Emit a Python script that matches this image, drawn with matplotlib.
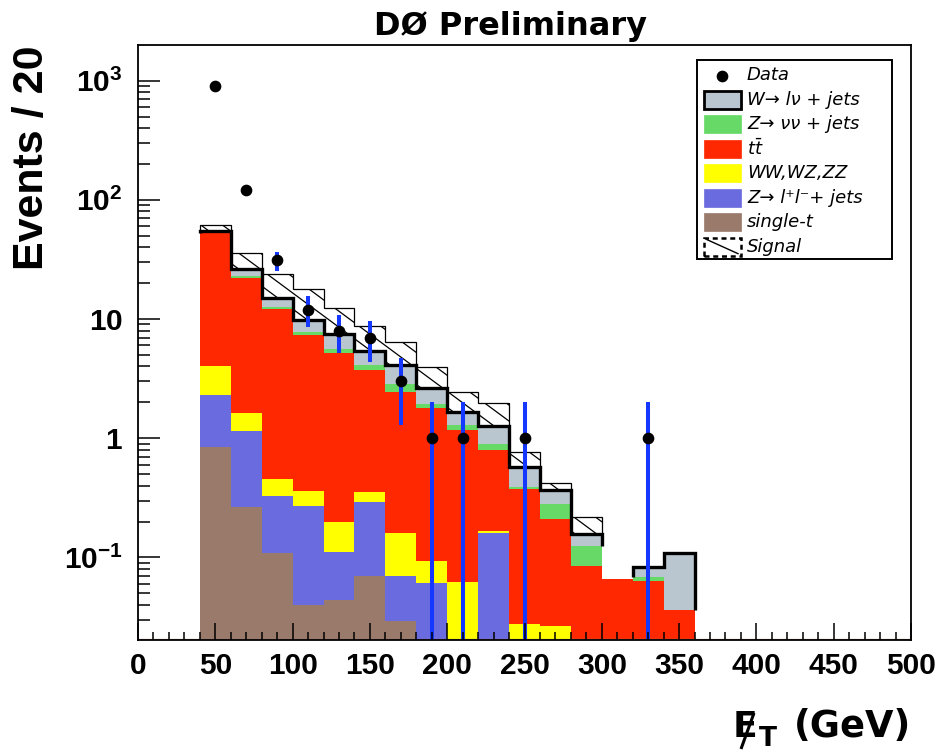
import numpy as np
import matplotlib
matplotlib.use("Agg")
import matplotlib.pyplot as plt
from matplotlib.patches import Rectangle
from matplotlib.lines import Line2D
from matplotlib.transforms import IdentityTransform

plt.rcParams['font.family'] = ['Liberation Sans', 'DejaVu Sans']
plt.rcParams['mathtext.fontset'] = 'custom'
plt.rcParams['mathtext.rm'] = 'DejaVu Sans'
plt.rcParams['mathtext.it'] = 'DejaVu Sans:italic'
plt.rcParams['mathtext.bf'] = 'Liberation Sans:bold'

# ---------------- data ----------------
bin_edges = [40, 60, 80, 100, 120, 140, 160, 180, 200, 220, 240, 260, 280, 300, 320, 340, 360]
single_t = [0.84, 0.264, 0.109, 0.040, 0.044, 0.070, 0.0295, 0, 0, 0, 0, 0, 0, 0, 0, 0]
z_ll     = [1.47, 0.876, 0.221, 0.23, 0.068, 0.222, 0.0405, 0.061, 0, 0.16, 0, 0, 0, 0, 0, 0]
diboson  = [1.75, 0.50, 0.129, 0.092, 0.088, 0.063, 0.09, 0.033, 0.0628, 0.008, 0.0277, 0.0267, 0, 0, 0, 0]
ttbar    = [48.24, 20.56, 11.64, 6.98, 4.96, 3.375, 2.30, 1.686, 1.107, 0.632, 0.345, 0.182, 0.084, 0.066, 0.063, 0.0359]
z_nunu   = [0.5, 0.7, 0.4, 0.39, 0.45, 0.38, 0.39, 0.16, 0.12, 0.096, 0.015, 0.072, 0.041, 0, 0.006, 0]
w_lnu    = [1.9, 3.2, 2.4, 2.07, 1.83, 1.28, 1.26, 0.68, 0.38, 0.374, 0.183, 0.088, 0.033, 0, 0.0134, 0.074]
signal   = [6.7, 9.8, 8.9, 7.9, 4.86, 3.35, 2.34, 1.36, 0.79, 0.72, 0.192, 0.056, 0.06, 0, 0, 0]

data_x   = [50, 70, 90, 110, 130, 150, 170, 190, 210, 250, 330]
data_n   = [900, 120, 31, 12, 8, 7, 3, 1, 1, 1, 1]
data_err = [30, 11, 5.6, 3.5, 2.8, 2.6, 1.7, 1, 1, 1, 1]

x_ticks = [0, 50, 100, 150, 200, 250, 300, 350, 400, 450, 500]
y_ticks = [0.1, 1, 10, 100, 1000]
y_tick_labels = [r'$\mathbf{10^{-1}}$', r'$\mathbf{1}$', r'$\mathbf{10}$',
                 r'$\mathbf{10^{2}}$', r'$\mathbf{10^{3}}$']

legend_labels = ['Data', 'W\u2192 l\u03bd + jets', 'Z\u2192 \u03bd\u03bd + jets', r'$t\bar{t}$',
                 'WW,WZ,ZZ', 'Z\u2192 l\u207al\u207b+ jets', 'single-t', 'Signal']

# ---------------- styles ----------------
C_BROWN = '#9A7B6B'
C_BLUE = '#6B6BE0'
C_YEL = '#FFFF00'
C_RED = '#FF2800'
C_GREEN = '#66D966'
C_GREY = '#BAC6CF'
C_ERR = '#1438FF'

W, H = 940, 752
fig = plt.figure(figsize=(W / 100, H / 100), dpi=100)
ax = fig.add_axes([138 / W, 112 / H, 773 / W, 595 / H])
YMIN, YMAX = 0.0203, 1990
ax.set_yscale('log')
ax.set_xlim(0, 500)
ax.set_ylim(YMIN, YMAX)

edges = np.array(bin_edges, float)
comps = [np.array(c, float) for c in (single_t, z_ll, diboson, ttbar, z_nunu, w_lnu)]
colors = [C_BROWN, C_BLUE, C_YEL, C_RED, C_GREEN, C_GREY]
cums = np.cumsum(np.vstack(comps), axis=0)
tot_bkg = cums[-1]
sig_top = tot_bkg + np.array(signal, float)
tiny = 1e-4


def pos(v):
    return np.where(v > 0, v, tiny)


# signal (white fill + hatch + thin outline), drawn beneath the background stack
sig_patch = ax.stairs(pos(sig_top), edges, baseline=tiny, fill=True,
                      facecolor='white', edgecolor='none', linewidth=0, zorder=1)
for k in range(-40, 60):
    x0, x1 = 100, 940
    y0 = 254 + 0.74 * (x0 - 240) + k * 16
    y1 = 254 + 0.74 * (x1 - 240) + k * 16
    ln = Line2D([x0, x1], [H - y0, H - y1], transform=IdentityTransform(),
                color='black', lw=0.9, zorder=1.2)
    ax.add_line(ln)
    ln.set_clip_path(sig_patch)
    ln.set_clip_box(ax.bbox)

has_sig = np.array(signal) > 0
nsig = int(np.max(np.where(has_sig)[0])) + 1
xs = [edges[0]]
ys = [tot_bkg[0]]
for i in range(nsig):
    xs += [edges[i], edges[i + 1]]
    ys += [sig_top[i], sig_top[i]]
xs.append(edges[nsig])
ys.append(tot_bkg[nsig - 1])
ax.plot(xs, ys, color='black', lw=0.9, zorder=1.5, solid_joinstyle='miter')

# background stack, top-most cumulative first
for k in range(len(comps) - 1, -1, -1):
    ax.stairs(pos(cums[k]), edges, baseline=tiny, fill=True,
              facecolor=colors[k], edgecolor='none', linewidth=0, zorder=2 + (5 - k) * 0.01)

# thick black outline on the total background where W+jets > 0
w_arr = np.array(w_lnu)
below_w = cums[-2]
runs = []
i = 0
n = len(w_arr)
while i < n:
    if w_arr[i] > 0:
        j = i
        while j + 1 < n and w_arr[j + 1] > 0:
            j += 1
        runs.append((i, j))
        i = j + 1
    else:
        i += 1
for (a, b) in runs:
    xs = [edges[a]]
    ys = [below_w[a]]
    for m in range(a, b + 1):
        xs += [edges[m], edges[m + 1]]
        ys += [tot_bkg[m], tot_bkg[m]]
    xs.append(edges[b + 1])
    ys.append(below_w[b])
    ax.plot(xs, ys, color='black', lw=2.4, zorder=3, solid_joinstyle='miter',
            solid_capstyle='butt')

# tan baseline of the single-t histogram
ax.axhline(YMIN, color=C_BROWN, lw=1.6, zorder=2.6)

# data
dn = np.array(data_n, float)
de = np.array(data_err, float)
lo = np.clip(dn - de, 1e-3, None)
ax.vlines(data_x, lo, dn + de, color=C_ERR, lw=2.9, zorder=4)
ax.plot(data_x, dn, 'o', color='black', ms=7.4, zorder=5)

# axes styling
for sp in ax.spines.values():
    sp.set_linewidth(1.3)
    sp.set_zorder(10)
ax.xaxis.set_zorder(10)
ax.yaxis.set_zorder(10)
ax.set_xticks(x_ticks)
ax.set_xticklabels([str(v) for v in x_ticks])
ax.set_xticks(np.arange(0, 501, 10), minor=True)
ax.set_yticks(y_ticks)
ax.set_yticklabels(y_tick_labels)
minor_y = [m * 10.0 ** e for e in range(-2, 4) for m in range(2, 10)]
minor_y = [v for v in minor_y if YMIN <= v <= YMAX]
ax.set_yticks(minor_y, minor=True)
ax.yaxis.set_minor_formatter(matplotlib.ticker.NullFormatter())
ax.tick_params(axis='x', which='major', direction='in', length=12, width=1.1,
               top=False, labelsize=21.5, pad=9)
ax.tick_params(axis='x', which='minor', direction='in', length=6, width=1.1, top=False)
ax.tick_params(axis='y', which='major', direction='in', length=16, width=1.1,
               right=False, labelsize=21.5, pad=11)
ax.tick_params(axis='y', which='minor', direction='in', length=8.6, width=1.1, right=False)
for lab in ax.get_xticklabels():
    lab.set_fontweight('bold')
ax.set_xlim(0, 500)
ax.set_ylim(YMIN, YMAX)

# titles
fig.text(511 / W, 1 - 35 / H, 'DØ Preliminary', ha='center', va='baseline',
         fontsize=23, fontweight='bold', family='DejaVu Sans')
fig.text(32 / W, 1 - 45 / H, 'Events / 20', rotation=90, ha='center', va='top',
         fontsize=31, fontweight='bold')
fig.text(911 / W, 1 - 737 / H, '(GeV)', ha='right', va='baseline',
         fontsize=26.5, fontweight='bold', family='DejaVu Sans')
fig.text(733 / W, 1 - 737 / H, 'E', ha='left', va='baseline',
         fontsize=26, fontweight='bold', family='DejaVu Sans')
fig.text(759 / W, 1 - 746 / H, 'T', ha='left', va='baseline',
         fontsize=19, fontweight='bold', family='DejaVu Sans')
fig.add_artist(Line2D([741 / W, 754 / W], [1 - 749 / H, 1 - 713 / H], color='black',
                      lw=2.2, transform=fig.transFigure, solid_capstyle='butt'))


# legend
def fx(x):
    return x / W


def fy(y):
    return 1 - y / H


fig.add_artist(Rectangle((fx(697), fy(259)), fx(892) - fx(697), fy(60) - fy(259),
                         transform=fig.transFigure, facecolor='white',
                         edgecolor='black', lw=1.4, zorder=20))
leg_colors = [None, C_GREY, C_GREEN, C_RED, C_YEL, C_BLUE, C_BROWN, None]
row0, dy = 75.5, 24.45
sw_x0, sw_x1, sw_h = 704, 741, 18
for r, (lab, col) in enumerate(zip(legend_labels, leg_colors)):
    yc = row0 + r * dy
    if r == 0:
        fig.add_artist(Line2D([fx(722)], [fy(yc)], marker='o', color='black', ms=7.4,
                              transform=fig.transFigure, zorder=21))
    elif r == 7:
        fig.add_artist(Rectangle((fx(sw_x0), fy(yc + sw_h / 2)), fx(sw_x1) - fx(sw_x0),
                                 fy(yc - sw_h / 2) - fy(yc + sw_h / 2),
                                 transform=fig.transFigure, facecolor='white',
                                 edgecolor='black', lw=1.8, ls=(0, (2.0, 1.5)), zorder=21))
        fig.add_artist(Line2D([fx(sw_x0 + 3), fx(sw_x1 - 3)],
                              [fy(yc - sw_h / 2 + 2), fy(yc + sw_h / 2 - 2)],
                              color='black', lw=1.0, transform=fig.transFigure, zorder=22))
    else:
        ec = 'black' if r == 1 else col
        lw = 2.0 if r == 1 else 0.5
        fig.add_artist(Rectangle((fx(sw_x0), fy(yc + sw_h / 2)), fx(sw_x1) - fx(sw_x0),
                                 fy(yc - sw_h / 2) - fy(yc + sw_h / 2),
                                 transform=fig.transFigure, facecolor=col,
                                 edgecolor=ec, lw=lw, zorder=21))
    fig.text(fx(747), fy(yc), lab, ha='left', va='center', fontsize=13,
             style='italic', family='DejaVu Sans', zorder=22)

fig.savefig('out.png', dpi=100)
